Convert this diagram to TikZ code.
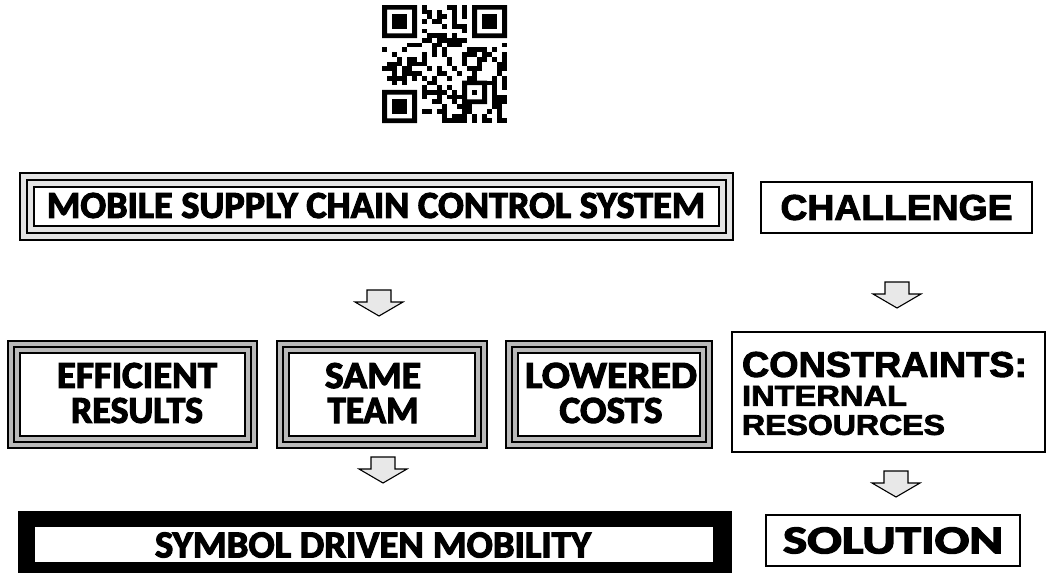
\documentclass[tikz,border=0pt]{standalone}
\usepackage{fontspec}
\usepackage{graphicx}
\newfontfamily\calfnt{Carlito}[BoldFeatures={FakeBold=3}]
\newfontfamily\arfnt{Liberation Sans}[BoldFeatures={FakeBold=2.5}]
\newcommand\fitt[3]{\resizebox{#1pt}{#2pt}{#3}}
% triple frame: node name, inset of middle line, inset of inner line
\newcommand\tframe[3]{%
  \draw[line width=1.3pt] ([shift={(#2,#2)}]#1.north west) rectangle ([shift={(-#2,-#2)}]#1.south east);
  \draw[line width=2pt, fill=white] ([shift={(#3,#3)}]#1.north west) rectangle ([shift={(-#3,-#3)}]#1.south east);}
% block arrow pointing down from a named top coordinate
\newcommand\barrow[1]{%
  \draw[arrowshape] ([shift={(-12,0)}]#1) -- ++(24,0) -- ++(0,12) -- ++(12,0) -- ++(-24,14) -- ++(-24,-14) -- ++(12,0) -- cycle;}
\begin{document}
\begin{tikzpicture}[x=1pt,y=-1pt,
  txt/.style={inner sep=0pt, outer sep=0pt},
  tbox/.style={draw=black, line width=1.6pt, inner sep=0pt, outer sep=0pt},
  sbox/.style={draw=black, line width=1.8pt, inner sep=0pt, outer sep=0pt, fill=white},
  arrowshape/.style={draw=black, line width=1.1pt, fill=gray!18, line join=miter}]
\fill[white] (0,0) rectangle (1049,574);
\useasboundingbox (0,0) rectangle (1049,574);

% QR code
\begin{scope}[shift={(382,5)}, x=5pt, y=-4.72pt]
  \pgfmathsetseed{4711}
  \foreach \r in {0,...,24}{
    \foreach \c in {0,...,24}{
      \pgfmathtruncatemacro\skipit{or(or(and(\r<8,\c<8),and(\r<8,\c>16)),or(and(\r>16,\c<8),and(and(\r>15,\r<21),and(\c>15,\c<21))))}
      \pgfmathtruncatemacro\bit{rnd<0.5}
      \ifnum\skipit=0 \ifnum\bit=1 \fill[black] (\c,\r) rectangle ++(1,1); \fi\fi
    }
  }
  \foreach \x/\y in {0/0,18/0,0/18}{
    \fill[black, even odd rule] (\x,\y) rectangle ++(7,7) (\x+1,\y+1) rectangle ++(5,5);
    \fill[black] (\x+2,\y+2) rectangle ++(3,3);
  }
  \fill[black, even odd rule] (16,16) rectangle ++(5,5) (17,17) rectangle ++(3,3);
  \fill[black] (18,18) rectangle ++(1,1);
\end{scope}

% title
\node[tbox, fill=gray!22, minimum width=713, minimum height=67] (title) at (376.5,206.5) {};
\tframe{title}{7}{14}
\node[txt] (titletxt) at (376,205.5) {\fitt{658}{25}{\calfnt\bfseries MOBILE SUPPLY CHAIN CONTROL SYSTEM}};

% challenge
\node[sbox, minimum width=271, minimum height=51] (chal) at (896.5,207.5) {\fitt{232}{25}{\arfnt\bfseries CHALLENGE}};

% arrows
\coordinate (a1) at (379,290);
\coordinate (a2) at (897,282);
\coordinate (a3) at (383,457);
\coordinate (a4) at (896,471);
\barrow{a1}
\barrow{a2}
\barrow{a3}
\barrow{a4}

% row boxes
\node[tbox, fill=gray!55, minimum width=249, minimum height=107] (eff) at (132.5,394.5) {};
\tframe{eff}{6}{12}
\node[txt, align=center, font=\fontsize{20}{35}\selectfont] (efftxt) at (137,393) {\fitt{160}{25}{\calfnt\bfseries EFFICIENT}\\\fitt{132}{25}{\calfnt\bfseries RESULTS}};

\node[tbox, fill=gray!55, minimum width=210, minimum height=107] (same) at (382,394.5) {};
\tframe{same}{6}{12}
\node[txt, align=center, font=\fontsize{20}{35}\selectfont] (sametxt) at (373,393) {\fitt{96}{25}{\calfnt\bfseries SAME}\\\fitt{91}{25}{\calfnt\bfseries TEAM}};

\node[tbox, fill=gray!55, minimum width=206, minimum height=107] (low) at (609,394.5) {};
\tframe{low}{6}{12}
\node[txt, align=center, font=\fontsize{20}{35}\selectfont] (lowtxt) at (611,393) {\fitt{172}{25}{\calfnt\bfseries LOWERED}\\\fitt{103}{25}{\calfnt\bfseries COSTS}};

% constraints
\node[sbox, line width=1.4pt, minimum width=313, minimum height=120] (cons) at (888.5,392) {};
\node[txt, anchor=west, align=left, font=\fontsize{20}{29}\selectfont] (constxt) at (742,393.5) {\fitt{285}{25}{\arfnt\bfseries CONSTRAINTS:}\\\fitt{165}{20}{\arfnt\bfseries INTERNAL}\\\fitt{203}{20}{\arfnt\bfseries RESOURCES}};

% bottom row
\node[fill=black, inner sep=0pt, outer sep=0pt, minimum width=714, minimum height=62] (sym) at (375,542) {};
\fill[white] ([shift={(17,16)}]sym.north west) rectangle ([shift={(-19,-11)}]sym.south east);
\node[txt] (symtxt) at (373,545) {\fitt{436}{25}{\calfnt\bfseries SYMBOL DRIVEN MOBILITY}};

\node[sbox, minimum width=254, minimum height=51] (sol) at (893,540.5) {\fitt{220}{26}{\calfnt\bfseries SOLUTION}};
\end{tikzpicture}
\end{document}
